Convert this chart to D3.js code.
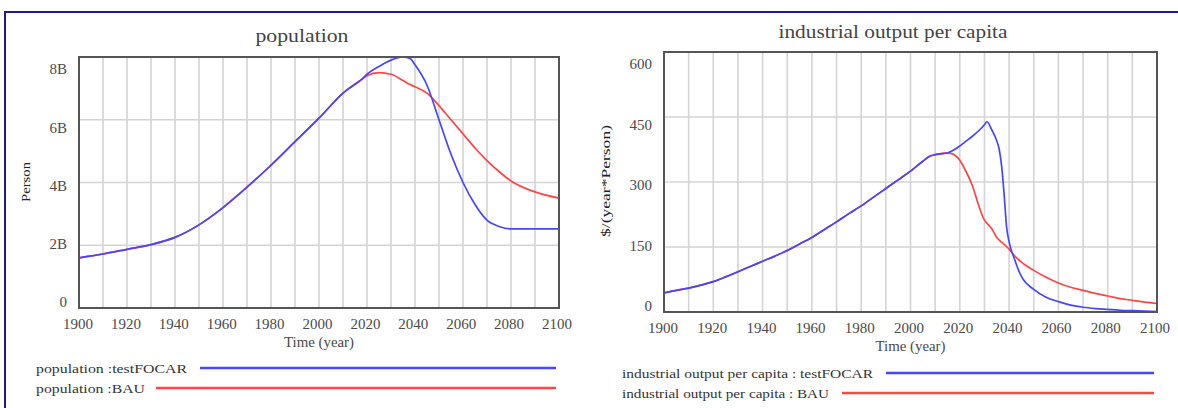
<!DOCTYPE html>
<html>
<head>
<meta charset="utf-8">
<script src="https://cdn.jsdelivr.net/npm/d3@7"></script>
<style>
  body { margin: 0; background: #fff; }
  text { font-family: "Liberation Serif", "Times New Roman", serif; fill: #4a4a4a; }
</style>
</head>
<body>
<div id="chart"></div>
<script>
const width = 1178;
const height = 408;

// population (billions of persons)
const popYears = [1900, 1910, 1920, 1930, 1940, 1950, 1960, 1970, 1980, 1990, 2000, 2010, 2018, 2020, 2025,
  2030, 2035, 2038, 2040, 2045, 2050, 2055, 2060, 2065, 2070, 2075, 2080, 2090, 2100];
const popFocar = [1.6, 1.72, 1.87, 2.02, 2.25, 2.65, 3.2, 3.85, 4.55, 5.3, 6.05, 6.85, 7.3, 7.45, 7.7,
  7.9, 8.0, 7.95, 7.75, 7.1, 6.0, 4.9, 4.0, 3.3, 2.8, 2.6, 2.52, 2.52, 2.52];
const popBau = [1.6, 1.72, 1.87, 2.02, 2.25, 2.65, 3.2, 3.85, 4.55, 5.3, 6.05, 6.85, 7.3, 7.4, 7.5,
  7.45, 7.25, 7.12, 7.05, 6.85, 6.45, 6.0, 5.55, 5.1, 4.7, 4.35, 4.05, 3.7, 3.5];
const popTicks = [0, 2, 4, 6, 8];
const popTickLabels = ['0', '2B', '4B', '6B', '8B'];

// industrial output per capita ($/(year*Person))
const iopcYears = [1900, 1905, 1910, 1915, 1920, 1925, 1930, 1935, 1940, 1945, 1950, 1955, 1960, 1965,
  1970, 1975, 1980, 1985, 1990, 1995, 2000, 2005, 2008, 2010, 2015, 2017, 2020, 2022, 2025, 2028, 2030,
  2031, 2033, 2035, 2036, 2037, 2038, 2039, 2040, 2042, 2045, 2050, 2055, 2060, 2065, 2070, 2075, 2080,
  2085, 2090, 2095, 2100];
const iopcFocar = [44, 50, 55, 62, 70, 81, 93, 105, 117, 129, 142, 157, 172, 190,
  208, 227, 245, 265, 285, 305, 325, 348, 360, 363, 367, 372, 383, 392, 405, 420, 432,
  439, 420, 395, 375, 335, 270, 195, 162, 125, 82, 52, 34, 24, 16, 11, 8, 6,
  4, 3, 2, 1];
const iopcBau = [44, 50, 55, 62, 70, 81, 93, 105, 117, 129, 142, 157, 172, 190,
  208, 227, 245, 265, 285, 305, 325, 348, 360, 363, 367, 365, 350, 330, 293, 240, 212,
  205, 192, 172, 166, 161, 156, 151, 145, 131, 115, 96, 80, 67, 57, 50, 43, 37,
  31, 27, 23, 20];
const iopcTicks = [0, 150, 300, 450, 600];
const iopcTickLabels = ['0', '150', '300', '450', '600'];

const xTicks = d3.range(1900, 2101, 20);
const blue = '#4646ff';
const red = '#ff4646';

const svg = d3.select('#chart')
  .append('svg')
  .attr('width', width)
  .attr('height', height);

// outer frame (only top and left edges are visible)
svg.append('path')
  .attr('d', 'M5,408V12H1178')
  .attr('fill', 'none')
  .attr('stroke', '#1c1c8c')
  .attr('stroke-width', 2);

function drawPanel(p) {
  const x = d3.scaleLinear().domain([1900, 2100]).range([p.left, p.right]);
  const y = d3.scaleLinear().domain([0, p.yMax]).range([p.bottom, p.top]);
  // Vensim places its tick labels slightly inside the plot range
  const xLab = d3.scaleLinear().domain([1900, 2100]).range([p.left - 1, p.right - 2]);
  const yLab = d3.scaleLinear().domain([0, p.yMax]).range([p.bottom - 6, p.top + 12]);

  const g = svg.append('g');

  // grid
  g.selectAll('.vgrid')
    .data(d3.range(1910, 2100, 10))
    .enter()
    .append('line')
    .attr('x1', d => x(d)).attr('x2', d => x(d))
    .attr('y1', p.top).attr('y2', p.bottom)
    .attr('stroke', '#d4d4d4')
    .attr('stroke-width', 1.6);

  g.selectAll('.hgrid')
    .data(p.ticks.slice(1, -1))
    .enter()
    .append('line')
    .attr('x1', p.left).attr('x2', p.right)
    .attr('y1', d => y(d)).attr('y2', d => y(d))
    .attr('stroke', '#d4d4d4')
    .attr('stroke-width', 1.6);

  // data lines, BAU first so that the shared history shows blue
  const line = d3.line()
    .x(d => x(d[0]))
    .y(d => y(d[1]))
    .curve(d3.curveMonotoneX);

  [[p.bau, red], [p.focar, blue]].forEach(function (s) {
    g.append('path')
      .datum(p.years.map((yr, i) => [yr, s[0][i]]))
      .attr('d', line)
      .attr('fill', 'none')
      .attr('stroke', s[1])
      .attr('stroke-width', 1.7);
  });

  // plot border
  g.append('rect')
    .attr('x', p.left).attr('y', p.top)
    .attr('width', p.right - p.left)
    .attr('height', p.bottom - p.top)
    .attr('fill', 'none')
    .attr('stroke', '#555')
    .attr('stroke-width', 2);

  // tick labels
  g.selectAll('.ylab')
    .data(p.ticks)
    .enter()
    .append('text')
    .attr('x', p.left - 12)
    .attr('y', d => yLab(d))
    .attr('dy', '0.35em')
    .attr('text-anchor', 'end')
    .style('font-size', '15px')
    .text((d, i) => p.tickLabels[i]);

  g.selectAll('.xlab')
    .data(xTicks)
    .enter()
    .append('text')
    .attr('x', d => xLab(d))
    .attr('y', p.bottom + 21)
    .attr('text-anchor', 'middle')
    .style('font-size', '15px')
    .text(d => d);

  // titles
  g.append('text')
    .attr('x', p.titleX).attr('y', p.titleY)
    .attr('text-anchor', 'middle')
    .attr('textLength', p.titleLen)
    .attr('lengthAdjust', 'spacingAndGlyphs')
    .style('font-size', '18px')
    .style('fill', '#444')
    .text(p.title);

  g.append('text')
    .attr('x', (p.left + p.right) / 2).attr('y', p.bottom + 39)
    .attr('text-anchor', 'middle')
    .attr('textLength', 70)
    .attr('lengthAdjust', 'spacingAndGlyphs')
    .style('font-size', '14px')
    .text('Time (year)');

  g.append('text')
    .attr('transform', 'translate(' + p.yTitleX + ',' + p.yTitleY + ') rotate(-90)')
    .attr('text-anchor', 'middle')
    .attr('dy', '0.35em')
    .attr('textLength', p.yTitleLen)
    .attr('lengthAdjust', 'spacingAndGlyphs')
    .style('font-size', '12px')
    .style('fill', '#222')
    .text(p.yTitle);

  // legend
  p.legend.forEach(function (l) {
    g.append('text')
      .attr('x', l.x).attr('y', l.y)
      .attr('dy', '0.35em')
      .attr('textLength', l.len)
      .attr('lengthAdjust', 'spacingAndGlyphs')
      .style('font-size', '13px')
      .style('fill', '#333')
      .text(l.label);
    g.append('line')
      .attr('x1', l.x1).attr('x2', p.right - 3)
      .attr('y1', l.y).attr('y2', l.y)
      .attr('stroke', l.color)
      .attr('stroke-width', 2.4);
  });
}

drawPanel({
  left: 79, right: 559, top: 57, bottom: 308, yMax: 8,
  years: popYears, focar: popFocar, bau: popBau,
  ticks: popTicks, tickLabels: popTickLabels,
  title: 'population', titleX: 302, titleY: 42, titleLen: 93,
  yTitle: 'Person', yTitleX: 26, yTitleY: 182, yTitleLen: 40,
  legend: [
    { label: 'population :testFOCAR', x: 36, y: 368, len: 151, x1: 200, color: blue },
    { label: 'population :BAU', x: 36, y: 388, len: 109, x1: 156, color: red }
  ]
});

drawPanel({
  left: 664, right: 1157, top: 52, bottom: 312, yMax: 600,
  years: iopcYears, focar: iopcFocar, bau: iopcBau,
  ticks: iopcTicks, tickLabels: iopcTickLabels,
  title: 'industrial output per capita', titleX: 893, titleY: 38, titleLen: 229,
  yTitle: '$/(year*Person)', yTitleX: 606, yTitleY: 181, yTitleLen: 112,
  legend: [
    { label: 'industrial output per capita : testFOCAR', x: 622, y: 373, len: 251, x1: 886, color: blue },
    { label: 'industrial output per capita : BAU', x: 622, y: 393, len: 207, x1: 842, color: red }
  ]
});
</script>
</body>
</html>
